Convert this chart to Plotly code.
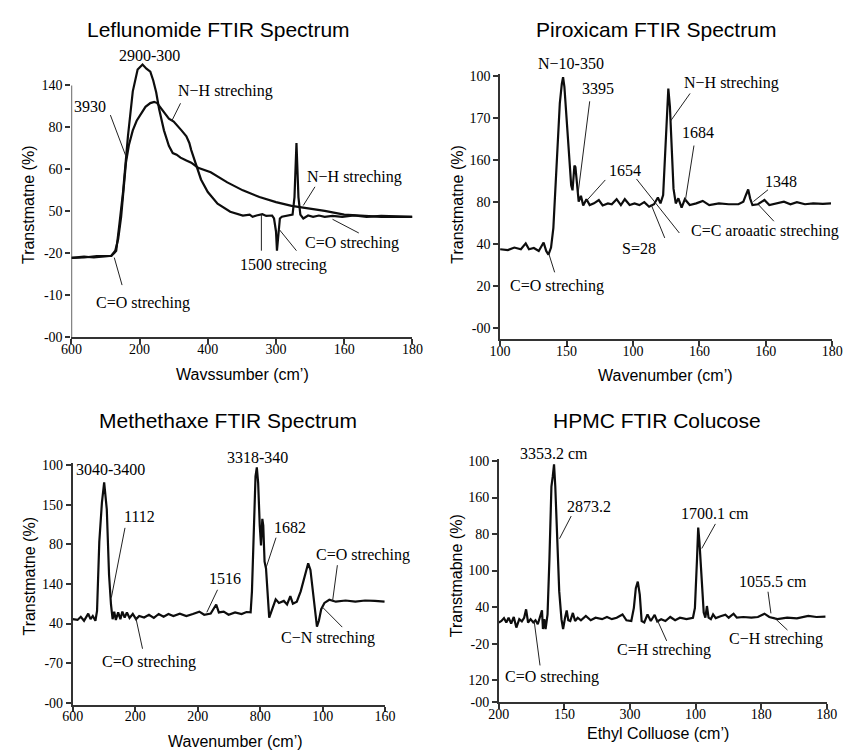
import plotly.graph_objects as go

W, H = 855, 756

# ---------------- data (x, y in tick-index units of each panel) ----------------
# Panel 1: Leflunomide (two overlaid spectra)
lef_a_x = [0, 0.186, 0.329, 0.471, 0.586, 0.629, 0.657, 0.700, 0.757, 0.829, 0.900, 0.971, 1.043, 1.100,
           1.129, 1.157, 1.200, 1.243, 1.286, 1.357, 1.429, 1.486, 1.543, 1.600, 1.686, 1.757, 1.857,
           2.043, 2.286, 2.514, 2.757, 3.0, 3.229, 3.429, 3.714, 4.0, 4.286, 4.543, 5.0]
lef_a_y = [1.89, 1.92, 1.90, 1.92, 1.94, 2.01, 2.06, 2.64, 3.46, 4.79, 5.86, 6.38, 6.50, 6.40,
           6.36, 6.33, 6.12, 5.84, 5.44, 4.93, 4.56, 4.39, 4.35, 4.28, 4.21, 4.16, 4.04,
           3.93, 3.69, 3.50, 3.34, 3.22, 3.13, 3.08, 3.01, 2.92, 2.90, 2.87, 2.87]
lef_b_x = [0, 0.186, 0.371, 0.586, 0.643, 0.686, 0.729, 0.771, 0.8, 0.843, 0.9, 0.957, 1.0, 1.086,
           1.157, 1.214, 1.257, 1.3, 1.371, 1.429, 1.5, 1.571, 1.614, 1.686, 1.729, 1.757, 1.8,
           1.829, 1.9, 2.0, 2.143, 2.329, 2.514, 2.614, 2.657, 2.714, 2.8, 2.857, 2.943, 2.971,
           3.0, 3.014, 3.036, 3.057, 3.086, 3.186, 3.243, 3.271, 3.3, 3.329, 3.357, 3.4, 3.471,
           3.543, 3.629, 3.714, 3.829, 3.971, 4.143, 4.329, 4.543, 5.0]
lef_b_y = [1.89, 1.90, 1.93, 1.94, 2.06, 2.34, 2.87, 3.69, 4.16, 4.58, 4.93, 5.16, 5.28, 5.49,
           5.58, 5.61, 5.58, 5.49, 5.33, 5.21, 5.14, 5.02, 4.93, 4.79, 4.63, 4.46, 4.25,
           4.09, 3.76, 3.46, 3.18, 2.99, 2.90, 2.92, 2.87, 2.90, 2.93, 2.89, 2.90, 2.83,
           2.52, 2.06, 2.41, 2.83, 2.87, 2.90, 2.92, 3.34, 4.63, 3.34, 2.92, 2.83, 2.90,
           2.87, 2.90, 2.87, 2.89, 2.87, 2.90, 2.87, 2.89, 2.87]
lef_xticks = ["600", "200", "400", "300", "160", "180"]
lef_yticks = ["-00", "-10", "-20", "50", "60", "80", "140"]

# Panel 2: Piroxicam
pir_x = [0, 0.117, 0.215, 0.313, 0.386, 0.435, 0.508, 0.582, 0.655, 0.694, 0.728, 0.767, 0.802, 0.826,
         0.85, 0.875, 0.899, 0.929, 0.948, 0.968, 0.997, 1.036, 1.07, 1.09, 1.119, 1.134, 1.158,
         1.183, 1.217, 1.251, 1.3, 1.349, 1.413, 1.486, 1.544, 1.623, 1.681, 1.754, 1.818, 1.877,
         1.95, 2.023, 2.097, 2.17, 2.243, 2.317, 2.375, 2.414, 2.454, 2.478, 2.502, 2.532, 2.556,
         2.581, 2.61, 2.644, 2.683, 2.732, 2.781, 2.854, 2.952, 3.05, 3.148, 3.294, 3.441, 3.587,
         3.661, 3.70, 3.734, 3.763, 3.798, 3.881, 3.978, 4.052, 4.174, 4.272, 4.37, 4.467, 4.589,
         4.712, 4.858, 4.98]
pir_y = [1.88, 1.86, 1.92, 1.88, 2.02, 1.88, 1.91, 1.84, 2.04, 1.84, 1.75, 1.92, 2.39, 3.17,
         3.95, 4.72, 5.35, 5.81, 5.97, 5.74, 5.11, 4.10, 3.40, 3.28, 3.87, 3.83, 3.32,
         3.01, 3.15, 2.92, 3.07, 2.93, 2.97, 3.05, 2.92, 2.97, 2.95, 3.07, 2.93, 3.07,
         2.93, 2.97, 2.93, 3.00, 2.89, 2.95, 3.11, 2.97, 3.17, 3.95, 4.96, 5.70, 5.27,
         4.33, 3.32, 2.97, 3.09, 2.87, 3.07, 2.93, 2.97, 3.03, 2.93, 2.97, 2.95, 2.95,
         3.01, 3.17, 3.30, 3.09, 2.93, 2.95, 3.05, 2.93, 2.97, 3.01, 2.95, 3.00, 2.95,
         2.97, 2.96, 2.97]
pir_xticks = ["100", "150", "100", "160", "160", "180"]
pir_yticks = ["-00", "20", "40", "80", "160", "170", "100"]

# Panel 3: Methethaxe
met_x = [0, 0.078, 0.13, 0.182, 0.249, 0.286, 0.322, 0.364, 0.39, 0.426, 0.468, 0.504, 0.546, 0.582,
         0.613, 0.639, 0.665, 0.691, 0.728, 0.764, 0.795, 0.832, 0.868, 0.91, 0.962, 1.014, 1.065,
         1.143, 1.221, 1.299, 1.377, 1.455, 1.533, 1.611, 1.715, 1.819, 1.923, 2.027, 2.105, 2.209,
         2.297, 2.339, 2.417, 2.495, 2.599, 2.703, 2.781, 2.848, 2.869, 2.9, 2.926, 2.947, 2.968,
         2.994, 3.014, 3.035, 3.05, 3.071, 3.094, 3.145, 3.197, 3.249, 3.301, 3.379, 3.431, 3.483,
         3.524, 3.587, 3.649, 3.691, 3.732, 3.769, 3.805, 3.847, 3.883, 3.909, 3.94, 3.977, 4.029,
         4.107, 4.211, 4.367, 4.523, 4.679, 4.835, 4.991]
met_y = [2.11, 2.09, 2.17, 2.07, 2.25, 2.11, 2.19, 2.07, 2.32, 4.06, 5.05, 5.56, 4.88, 3.23,
         2.48, 2.11, 2.30, 2.09, 2.28, 2.11, 2.30, 2.15, 2.28, 2.14, 2.24, 2.11, 2.19,
         2.15, 2.22, 2.14, 2.24, 2.17, 2.24, 2.19, 2.25, 2.19, 2.24, 2.30, 2.22, 2.25,
         2.48, 2.28, 2.30, 2.22, 2.28, 2.24, 2.29, 2.28, 2.81, 4.47, 5.71, 5.94, 5.55,
         4.47, 3.97, 4.64, 4.47, 3.56, 3.39, 2.15, 2.40, 2.61, 2.52, 2.57, 2.48, 2.69,
         2.50, 2.55, 2.81, 3.06, 3.35, 3.52, 3.35, 2.73, 2.15, 1.92, 2.07, 2.36, 2.52,
         2.60, 2.55, 2.58, 2.55, 2.58, 2.57, 2.55]
met_xticks = ["600", "200", "200", "800", "100", "160"]
met_yticks = ["-00", "-70", "40", "140", "80", "150", "100"]

# Panel 4: HPMC
hpm_x = [0, 0.04, 0.079, 0.114, 0.149, 0.188, 0.228, 0.267, 0.312, 0.351, 0.386, 0.416, 0.446, 0.485,
         0.525, 0.559, 0.594, 0.634, 0.658, 0.673, 0.693, 0.713, 0.743, 0.772, 0.802, 0.822, 0.842,
         0.861, 0.891, 0.921, 0.955, 0.98, 1.01, 1.035, 1.059, 1.089, 1.129, 1.163, 1.203, 1.252,
         1.327, 1.401, 1.475, 1.574, 1.649, 1.723, 1.797, 1.886, 1.946, 2.02, 2.059, 2.089, 2.119,
         2.149, 2.178, 2.218, 2.267, 2.317, 2.376, 2.416, 2.475, 2.54, 2.614, 2.688, 2.762, 2.861,
         2.96, 2.99, 3.02, 3.04, 3.059, 3.074, 3.099, 3.124, 3.149, 3.173, 3.198, 3.233, 3.267,
         3.307, 3.381, 3.455, 3.505, 3.579, 3.629, 3.728, 3.851, 3.95, 4.05, 4.124, 4.248, 4.396,
         4.545, 4.718, 4.842, 4.98]
hpm_y = [2.18, 2.22, 2.30, 2.18, 2.31, 2.15, 2.33, 2.04, 2.27, 2.21, 2.31, 2.54, 2.18, 2.27,
         2.18, 2.24, 2.13, 2.33, 2.51, 2.00, 2.27, 2.00, 2.40, 3.93, 5.90, 6.17, 6.51,
         5.90, 4.38, 3.03, 2.27, 2.00, 2.31, 2.51, 2.24, 2.22, 2.44, 2.22, 2.31, 2.24,
         2.36, 2.24, 2.31, 2.27, 2.33, 2.27, 2.31, 2.40, 2.24, 2.22, 2.58, 3.12, 3.30,
         2.94, 2.22, 2.18, 2.40, 2.22, 2.39, 2.21, 2.27, 2.22, 2.33, 2.24, 2.31, 2.27,
         2.31, 2.58, 3.84, 4.78, 4.38, 3.84, 3.03, 2.45, 2.31, 2.63, 2.31, 2.27, 2.40,
         2.30, 2.35, 2.39, 2.31, 2.42, 2.31, 2.33, 2.31, 2.33, 2.42, 2.33, 2.27, 2.31,
         2.29, 2.36, 2.33, 2.34]
hpm_xticks = ["200", "150", "300", "100", "180", "180"]
hpm_yvals = [0, 0.6, 1.6, 2.6, 3.6, 4.6, 5.6, 6.6]
hpm_yticks = ["-00", "120", "-20", "40", "100", "80", "160", "100"]

# ---------------- layout helpers ----------------
def px_x(p):
    return p / W

def px_y(p):
    return 1 - p / H

LINE = "#0d0d0d"
AX = "#333333"
TXT = "#000000"
SERIF = "Liberation Serif, Times New Roman, serif"
SANS = "Liberation Sans, Arial, sans-serif"

fig = go.Figure()
for xs, ys, ax in [(lef_a_x, lef_a_y, 1), (lef_b_x, lef_b_y, 1), (pir_x, pir_y, 2),
                   (met_x, met_y, 3), (hpm_x, hpm_y, 4)]:
    sfx = "" if ax == 1 else str(ax)
    fig.add_trace(go.Scatter(x=xs, y=ys, mode="lines", xaxis="x" + sfx, yaxis="y" + sfx,
                             line=dict(color=LINE, width=2.2), hoverinfo="skip", showlegend=False))

def xax(dom, ticks, anchor):
    return dict(domain=[px_x(dom[0]), px_x(dom[1])], range=[0, 5], anchor=anchor,
                tickvals=list(range(len(ticks))), ticktext=ticks, showgrid=False, zeroline=False,
                showline=True, linecolor=AX, linewidth=1.5, ticks="outside", ticklen=5,
                tickwidth=1.5, tickcolor=AX, tickfont=dict(family=SERIF, size=14, color=TXT),
                ticklabelstandoff=-7, fixedrange=True)

def yax(dom, rng, vals, ticks, anchor, showline=True):
    return dict(domain=[px_y(dom[0]), px_y(dom[1])], range=rng, anchor=anchor,
                tickvals=vals, ticktext=ticks, showgrid=False, zeroline=False,
                showline=showline, linecolor=AX, linewidth=1.5, ticks="outside", ticklen=5,
                tickwidth=1.5, tickcolor=AX, tickfont=dict(family=SERIF, size=14, color=TXT),
                fixedrange=True)

layout = dict(
    width=W, height=H, margin=dict(l=0, r=0, t=0, b=0),
    paper_bgcolor="white", plot_bgcolor="white", showlegend=False,
    xaxis=xax((62, 412), lef_xticks, "y"),
    yaxis=yax((338, 52), [0, 6.7], list(range(7)), lef_yticks, "x", showline=False),
    xaxis2=xax((502, 843), pir_xticks, "y2"),
    yaxis2=yax((340, 70), [-0.257, 6.05], list(range(7)), pir_yticks, "x2"),
    xaxis3=xax((63.3, 384), met_xticks, "y3"),
    yaxis3=yax((712, 466), [-0.05, 6.05], list(range(7)), met_yticks, "x3"),
    xaxis4=xax((500.7, 837.3), hpm_xticks, "y4"),
    yaxis4=yax((709.3, 462.1), [0, 6.65], hpm_yvals, hpm_yticks, "x4"),
)
fig.update_layout(**layout)

# left axis line of panel 1 only up to its top tick
fig.add_shape(type="line", xref="x", yref="y", x0=0, x1=0, y0=0, y1=6,
              line=dict(color=AX, width=1.5))

# ---------------- text ----------------
titles = [("Leflunomide FTIR Spectrum", 213, 25), ("Piroxicam FTIR Spectrum", 662, 25),
          ("Methethaxe FTIR Spectrum", 223, 423), ("HPMC FTIR Colucose", 663, 423)]
xtitles = [("Wavssumber (cm’)", 238, 376), ("Wavenumber (cm’)", 672, 377),
           ("Wavenumber (cm’)", 230, 749), ("Ethyl Colluose (cm’)", 664, 741)]
ytitles = [("Transtmatne (%)", 18, 203), ("Transtmatne (%)", 458, 203),
           ("Transtmatne (%)", 18, 581), ("Transtmabne (%)", 457, 581)]
labels = [
    ("2900-300", 142, 51), ("3930", 81, 103), ("N−H streching", 220, 88),
    ("N−H streching", 353, 175), ("C=O streching", 350, 242), ("1500 strecing", 280, 265),
    ("C=O streching", 135, 303),
    ("N−10-350", 575, 60), ("3395", 602, 85), ("N−H streching", 740, 79), ("1684", 705, 130),
    ("1654", 630, 168), ("1348", 790, 180), ("C=C aroaatic streching", 774, 230),
    ("S=28", 645, 248), ("C=O streching", 560, 286),
    ("3040-3400", 102, 473), ("1112", 132, 520), ("3318-340", 253, 460), ("1682", 286, 532),
    ("C=O streching", 361, 560), ("1516", 220, 584), ("C−N streching", 325, 644),
    ("C=O streching", 142, 669),
    ("3353.2 cm", 557, 456), ("2873.2", 593, 510), ("1700.1 cm", 723, 517),
    ("1055.5 cm", 782, 587), ("C−H streching", 785, 645), ("C=H streching", 670, 656),
    ("C=O streching", 555, 684),
]
leaders = [
    (102, 112, 118, 154), (174, 100, 165, 118), (312, 185, 300, 204), (357, 232, 330, 218),
    (257, 213, 257, 250), (293, 250, 275, 228), (114, 285, 106, 257),
    (594, 98, 582, 192), (697, 90, 677, 118), (701, 143, 692, 200), (610, 178, 590, 200),
    (777, 188, 762, 200), (783, 220, 767, 203), (642, 177, 686, 232), (671, 237, 657, 203),
    (558, 272, 552, 253),
    (117, 532, 103, 603), (272, 542, 262, 572), (335, 570, 330, 607), (212, 595, 201, 618),
    (340, 633, 320, 613), (135, 655, 128, 623),
    (575, 520, 563, 543), (723, 528, 709, 553), (777, 597, 780, 619), (797, 636, 783, 623),
    (673, 647, 663, 625), (543, 672, 537, 627),
]

anns = []
for t, x, y in titles:
    anns.append(dict(text=t, x=px_x(x), y=px_y(y), xref="paper", yref="paper", showarrow=False,
                     xanchor="center", yanchor="middle", font=dict(family=SANS, size=21, color=TXT)))
for t, x, y in xtitles:
    anns.append(dict(text=t, x=px_x(x), y=px_y(y), xref="paper", yref="paper", showarrow=False,
                     xanchor="center", yanchor="middle", font=dict(family=SANS, size=16, color=TXT)))
for t, x, y in ytitles:
    anns.append(dict(text=t, x=px_x(x), y=px_y(y), xref="paper", yref="paper", showarrow=False,
                     textangle=-90, xanchor="center", yanchor="middle",
                     font=dict(family=SANS, size=16, color=TXT)))
for t, x, y in labels:
    anns.append(dict(text=t, x=px_x(x), y=px_y(y), xref="paper", yref="paper", showarrow=False,
                     xanchor="center", yanchor="middle", font=dict(family=SERIF, size=16, color=TXT)))
fig.update_layout(annotations=anns)

for x0, y0, x1, y1 in leaders:
    fig.add_shape(type="line", xref="paper", yref="paper", x0=px_x(x0), y0=px_y(y0),
                  x1=px_x(x1), y1=px_y(y1), line=dict(color="#222", width=1))

fig.write_html("out.html", config={"displayModeBar": False},
               post_script="document.body.style.margin='0';document.body.style.overflow='hidden';")
